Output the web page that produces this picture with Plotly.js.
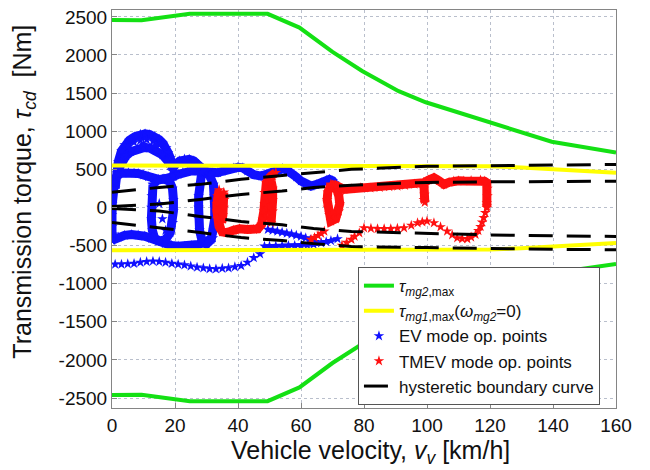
<!DOCTYPE html>
<html>
<head>
<meta charset="utf-8">
<script src="https://cdn.plot.ly/plotly-3.0.1.min.js"></script>
<style>html,body{margin:0;padding:0;background:#fff;}#chart{width:650px;height:470px;}</style>
</head>
<body>
<div id="chart"></div>
<script>
// ---- data ----
const xTicks = [0, 20, 40, 60, 80, 100, 120, 140, 160];
const yTicks = [-2500, -2000, -1500, -1000, -500, 0, 500, 1000, 1500, 2000, 2500];
const xTitle = 'Vehicle velocity, <i>v</i><sub><i>v</i></sub> [km/h]';
const yTitle = 'Transmission torque, <i>τ</i><sub><i>cd</i></sub>  [Nm]';

// tau_mg2,max envelope
const mg2X = [0, 9.4, 24.7, 49.4, 59.5, 70, 79.4, 91, 99.6, 119.6, 139.6, 160];
const mg2Upper = [2460, 2455, 2540, 2540, 2360, 2040, 1790, 1525, 1380, 1115, 862, 720];
const mg2Lower = [-2460, -2455, -2540, -2540, -2360, -2040, -1790, -1525, -1380, -1115, -862, -740];

// tau_mg1,max(omega_mg2=0)
const mg1X = [0, 40, 80, 110, 120, 130, 140, 150, 160];
const mg1Upper = [550, 550, 550, 548, 540, 525, 505, 480, 455];
const mg1Lower = [-560, -560, -560, -558, -550, -535, -515, -490, -465];

// hysteretic boundary curves
const hystX = [0, 15, 28, 41, 54, 64, 76, 100, 120, 140, 160];
const hystA = [200, 263, 303, 370, 420, 460, 500, 540, 550, 560, 565];
const hystB = [13, 45, 105, 171, 215, 262, 292, 329, 336, 341, 345];
const hystC = [-13, -45, -118, -184, -228, -276, -315, -342, -360, -372, -380];
const hystD = [-197, -263, -329, -395, -434, -474, -513, -526, -540, -548, -555];

// EV mode op. points (blue) - dense bands, segments separated by null
const evBandX = [
  1,1.5,2,3,4,5.5,7.3,9,10.5,12,13.6,15,16.2,17.2,17.8,18.5,19,19.5, null,
  2,3,4.5,6,8,10,12,14,16,17.5,18.5, null,
  19,20,21.5,23,24.5,26,27.5,29,30, null,
  0,1,2,3.5,5.2,7,8.3,10,11.5,13,14.7,16,17.8,19.5,21,22.5,24,25.5,27.3,29,30.5,32,33.6,35,36.8,38.5,40,41.5,43,45,47.4,49,50.5,52,54.2,55.5,56.9,58.5,60,61.5,63.2,64.8,66.4,68,69,70,70.6, null,
  0.8,0.3,0.1,0,0.1,0.3,0, null,
  0,2,4,6.2,8.3,10.4,12.5,14.7,16.8,18.9,21,23.1,25.2,27.3,29,30.5,32, null,
  13,12.6,12.5,12.5,12.8,13.5,15,17,18.5,19.3,19.5,19.5,19.2,18.3,16.5,14.5,13, null,
  28.5,27.8,27.5,27.5,27.5,27.8,28.5,30,31.5,32.3,32.6,32.6,32.5,32.2,31,29.5,28.5
];
const evBandY = [
  250,450,600,741,820,880,930,960,965,955,930,890,840,780,719,650,580,500, null,
  500,600,680,730,770,785,780,750,690,620,550, null,
  480,560,610,635,630,610,560,500,460, null,
  325,400,434,452,456,452,447,425,404,380,368,370,378,405,434,460,478,482,478,465,456,454,456,475,500,515,526,520,480,430,412,430,456,490,509,490,456,400,346,305,280,300,324,355,368,350,320, null,
  330,200,50,-100,-250,-350,-430, null,
  -430,-390,-365,-355,-362,-377,-408,-443,-475,-500,-508,-509,-500,-487,-465,-443,-400, null,
  300,150,0,-150,-300,-400,-440,-420,-330,-200,-50,100,250,340,375,360,300, null,
  460,300,150,0,-150,-300,-420,-480,-420,-300,-150,0,150,300,420,470,460
];
// EV thinner star rows
const evRowX = [
  49.5,51,52.5,54,55.5,57,58.5,60,61.5,63,64.5, null,
  48.4,50,52,54,56,58,60,62,64,66.4,68,69.5,71.6
];
const evRowY = [
  -290,-300,-312,-325,-338,-350,-365,-380,-400,-425,-450, null,
  -509,-507,-505,-502,-500,-500,-500,-495,-485,-465,-450,-435,-412
];
// EV sparse stars
const evSparseX = [1,3,5,7,9,11,13,15,17,19,21,23,25,27,29,31,33,35,37,39,41,43,45,47,
  5,7,9,11,13,15,6,10,14,16,15,17];
const evSparseY = [-745,-745,-740,-735,-720,-710,-705,-710,-720,-735,-745,-755,-770,-785,-795,-805,-807,-800,-795,-780,-765,-720,-660,-610,
  800,855,880,890,870,820,760,830,820,-150,50,-300];

// TMEV mode op. points (red) - dense bands
const tmBandX = [
  34,33.5,33.3,33.3,33.5,34,35,36.5,38.5,40.5,43,45,46.3,47.5,47.9,48.2,48.4,48.4,49,50.5,52, null,
  35.5,35.6,35.5,35.2,34.8, null,
  50.5,51,51,51,50.5, null,
  69.5,68.5,68.3,68.5,69,69.5,71,72,72.3,72,71.5,71, null,
  69.5,71,73.7,76,79,82,85,88,90.6,93,96,99,100.5,102.2,103.8,105.4,107,108.5,110,111.7,114,117,118.2,119,119.2,119.2,119,119, null,
  99,99,99.2,99,99.3
];
const tmBandY = [
  230,150,50,-50,-150,-250,-320,-330,-300,-280,-290,-290,-280,-220,-158,-50,50,193,325,412,456, null,
  200,100,0,-100,-200, null,
  -200,-50,100,250,350, null,
  300,200,100,0,-100,-180,-150,-50,50,150,250,290, null,
  302,290,237,245,259,255,262,272,280,290,305,325,360,390,350,302,330,346,350,346,352,359,345,325,250,150,60,17, null,
  325,250,170,100,66
];
// TMEV sparse stars
const tmSparseX = [119,118.5,118,117.5,117,116.3,115.4,114,112.8,111.2,109.6,108,106.4,104.3,102.2,100,98.5,97,95,92.7,90.6,88.5,86.4,84.3,82.2,80,78.5,77,76,74.5,73,
  63.2,64.3,65.4,66.4,67.4];
const tmSparseY = [-4,-70,-136,-195,-254,-305,-355,-390,-412,-410,-399,-360,-311,-255,-202,-180,-190,-202,-235,-268,-275,-280,-280,-280,-275,-268,-333,-380,-421,-460,-500,
  -421,-395,-370,-340,-312];

// ---- traces ----
const BLUE = '#1010ff', RED = '#ff1010', GREEN = '#14e014', YELLOW = '#ffff00';
const concat = (a, b) => a.concat([null], b);

const traces = [
  {x: evBandX, y: evBandY, mode: 'lines', line: {color: BLUE, width: 9}, showlegend: false, hoverinfo: 'skip'},
  {x: evRowX, y: evRowY, mode: 'lines', line: {color: BLUE, width: 4}, showlegend: false, hoverinfo: 'skip'},
  {x: concat(concat(evBandX, evRowX), evSparseX), y: concat(concat(evBandY, evRowY), evSparseY),
   mode: 'markers', name: 'EV mode op. points', legendrank: 3,
   marker: {symbol: 'star', size: 8, color: BLUE}},
  {x: tmBandX, y: tmBandY, mode: 'lines', line: {color: RED, width: 9}, showlegend: false, hoverinfo: 'skip'},
  {x: concat(tmBandX, tmSparseX), y: concat(tmBandY, tmSparseY),
   mode: 'markers', name: 'TMEV mode op. points', legendrank: 4,
   marker: {symbol: 'star', size: 8, color: RED}},
  {x: mg2X, y: mg2Upper, mode: 'lines', line: {color: GREEN, width: 4}, legendrank: 1, legendgroup: 'g',
   name: '<i>τ</i><sub><i>mg2</i>,max</sub>'},
  {x: mg2X, y: mg2Lower, mode: 'lines', line: {color: GREEN, width: 4}, showlegend: false, legendgroup: 'g'},
  {x: mg1X, y: mg1Upper, mode: 'lines', line: {color: YELLOW, width: 4}, legendrank: 2, legendgroup: 'y',
   name: '<i>τ</i><sub><i>mg1</i>,max</sub>(<i>ω</i><sub><i>mg2</i></sub>=0)'},
  {x: mg1X, y: mg1Lower, mode: 'lines', line: {color: YELLOW, width: 4}, showlegend: false, legendgroup: 'y'},
  {x: hystX, y: hystA, mode: 'lines', line: {color: '#000', width: 3, dash: '24px,14px'}, legendrank: 5, legendgroup: 'h',
   name: 'hysteretic boundary curve'},
  {x: hystX, y: hystB, mode: 'lines', line: {color: '#000', width: 3, dash: '24px,14px'}, showlegend: false, legendgroup: 'h'},
  {x: hystX, y: hystC, mode: 'lines', line: {color: '#000', width: 3, dash: '24px,14px'}, showlegend: false, legendgroup: 'h'},
  {x: hystX, y: hystD, mode: 'lines', line: {color: '#000', width: 3, dash: '24px,14px'}, showlegend: false, legendgroup: 'h'}
];

const FONT = 'Liberation Sans, Arial, sans-serif';
const axisCommon = {
  showline: true, mirror: true, linecolor: '#858585', linewidth: 1,
  showgrid: true, gridcolor: '#b9bfcc', griddash: 'dot', gridwidth: 1,
  zeroline: false, ticks: 'inside', ticklen: 5, tickcolor: '#858585',
  tickfont: {family: FONT, size: 19, color: '#111'}
};

const layout = {
  width: 650, height: 470,
  margin: {l: 112, r: 34, t: 10, b: 62},
  paper_bgcolor: '#fff', plot_bgcolor: '#fff',
  font: {family: FONT, color: '#111'},
  xaxis: Object.assign({}, axisCommon, {
    range: [0, 160], tickvals: xTicks, ticktext: xTicks.map(String)
  }),
  yaxis: Object.assign({}, axisCommon, {
    range: [-2630, 2590], tickvals: yTicks, ticktext: yTicks.map(String)
  }),
  annotations: [
    {text: xTitle, xref: 'paper', yref: 'paper', x: 0.512, y: -0.11, xanchor: 'center', yanchor: 'middle',
     showarrow: false, font: {family: FONT, size: 25, color: '#111'}},
    {text: yTitle, xref: 'paper', yref: 'paper', x: -0.175, y: 0.543, xanchor: 'center', yanchor: 'middle',
     textangle: -90, showarrow: false, font: {family: FONT, size: 25, color: '#111'}}
  ],
  legend: {
    x: 0.488, y: 0.354, xanchor: 'left', yanchor: 'top',
    bgcolor: '#fff', bordercolor: '#555', borderwidth: 1,
    font: {family: FONT, size: 17, color: '#111'},
    tracegroupgap: 0, itemwidth: 30
  },
  showlegend: true
};

Plotly.newPlot('chart', traces, layout, {displayModeBar: false, staticPlot: true});
</script>
</body>
</html>
